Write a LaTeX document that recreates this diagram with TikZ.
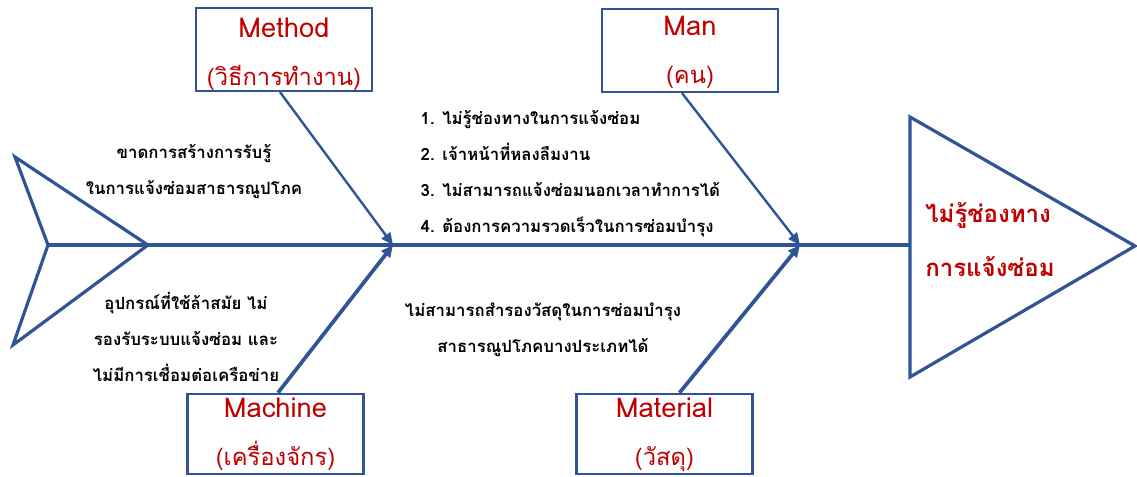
\documentclass[tikz,border=0pt]{standalone}
\usepackage{fontspec}
\setmainfont{Loma}[Script=Thai]
\usetikzlibrary{arrows.meta,calc}
\definecolor{fbl}{HTML}{2F5597}
\definecolor{fred}{HTML}{C00000}
\newcommand{\lat}[1]{{\fontsize{20.5}{36}\selectfont #1}}
\begin{document}
\begin{tikzpicture}[x=0.75pt,y=-0.75pt,
  outline/.style={draw=fbl,line width=2.4pt,line join=miter},
  boneup/.style={draw=fbl,line width=1.8pt,-{Triangle[length=9pt,width=8pt]}},
  bonedn/.style={draw=fbl,line width=2.8pt,-{Triangle[length=9pt,width=8pt]}},
  catbox/.style={draw=fbl,line width=1.9pt,fill=white,minimum width=132pt,inner sep=0pt},
  cattext/.style={align=center,text=fred,inner sep=0pt,font=\fontsize{17.8}{36}\selectfont},
  cause/.style={align=center,font=\bfseries\fontsize{12.6}{27}\selectfont},
  effect/.style={align=left,text=fred,font=\bfseries\fontsize{18}{40.5}\selectfont}]
\useasboundingbox (0,0) rectangle (1137,476);
% tail and head
\draw[outline] (15,157) -- (148,245) -- (13,345) -- (48,245) -- cycle;
\draw[outline] (910,117) -- (1135,246) -- (910,377) -- cycle;
\coordinate (tailj) at (48,245);
\coordinate (headj) at (910,245);
\coordinate (j1) at (393,245);
\coordinate (j2) at (800,245);
\draw[outline] (tailj) -- (headj);
% category boxes
\node[catbox,minimum height=62pt] (method) at (284,49.5) {};
\node[catbox,minimum height=62pt] (man) at (690,50.5) {};
\node[catbox,minimum height=60pt] (machine) at (275.5,434) {};
\node[catbox,minimum height=60pt] (material) at (664.5,434) {};
\node[cattext] (methodt) at ($(method.center)+(0,5)$) {\lat{Method}\\(วิธีการทำงาน)};
\node[cattext] (mant) at ($(man.center)+(0,2)$) {\lat{Man}\\(คน)};
\node[cattext] (machinet) at ($(machine.center)+(0,0.5)$) {\lat{Machine}\\(เครื่องจักร)};
\node[cattext] (materialt) at ($(material.center)+(0,0.5)$) {\lat{Material}\\(วัสดุ)};
% bones
\draw[boneup] ($(method.south)+(-4,0)$) -- (j1);
\draw[boneup] ($(man.south)+(-8,0)$) -- (j2);
\draw[bonedn] ($(machine.north)+(2.5,0)$) -- (j1);
\draw[bonedn] ($(material.north)+(15,0)$) -- (j2);
% effect
\node[effect] (eff) at (990,240) {ไม่รู้ช่องทาง\\การแจ้งซ่อม};
% causes
\node[cause] (c1) at (194,172) {ขาดการสร้างการรับรู้\\ในการแจ้งซ่อมสาธารณูปโภค};
\node[cause,align=left,anchor=west] (c2) at (416,174) {1. ไม่รู้ช่องทางในการแจ้งซ่อม\\2. เจ้าหน้าที่หลงลืมงาน\\3. ไม่สามารถแจ้งซ่อมนอกเวลาทำการได้\\4. ต้องการความรวดเร็วในการซ่อมบำรุง};
\node[cause] (c3) at (186,337) {อุปกรณ์ที่ใช้ล้าสมัย ไม่\\รองรับระบบแจ้งซ่อม และ\\ไม่มีการเชื่อมต่อเครือข่าย};
\node[cause] (c4) at (543,330) {ไม่สามารถสำรองวัสดุในการซ่อมบำรุง\\สาธารณูปโภคบางประเภทได้};
\end{tikzpicture}
\end{document}
